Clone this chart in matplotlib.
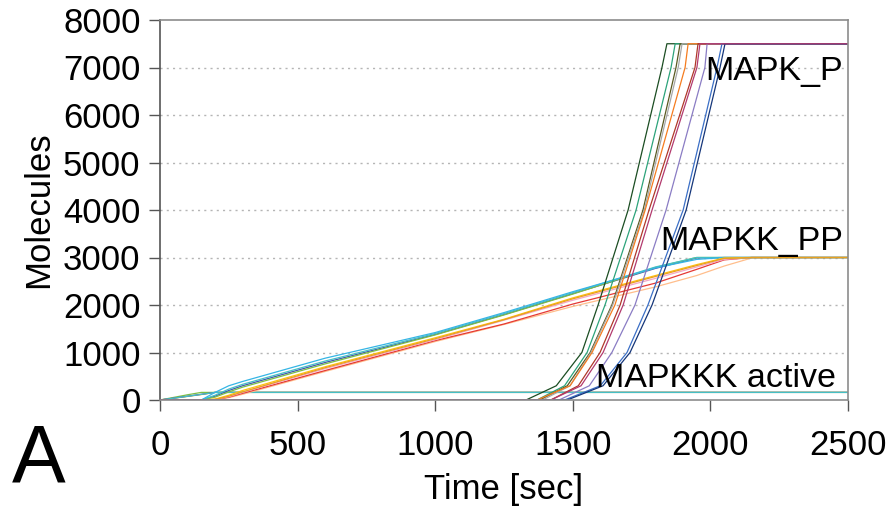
import matplotlib
matplotlib.use("Agg")
import matplotlib.pyplot as plt

plt.rcParams['font.family'] = ['Liberation Sans', 'DejaVu Sans']

# MAPK_P runs: time at which each run crosses the shared levels
mapk_levels = [0, 0, 300, 1000, 2000, 4000, 7000, 7500, 7500]
mapk_times = {
    "#1b4d22": [0, 1330, 1440, 1533, 1592, 1701, 1824, 1842, 2500],
    "#2ca37a": [0, 1370, 1470, 1552, 1617, 1730, 1857, 1872, 2500],
    "#5a5a22": [0, 1380, 1480, 1563, 1642, 1755, 1875, 1890, 2500],
    "#a8a8a8": [0, 1390, 1490, 1566, 1645, 1760, 1883, 1897, 2500],
    "#f57c1f": [0, 1370, 1490, 1570, 1653, 1763, 1908, 1919, 2500],
    "#b0382a": [0, 1420, 1520, 1599, 1672, 1777, 1944, 1955, 2500],
    "#8a7cc4": [0, 1450, 1560, 1642, 1726, 1839, 1980, 1988, 2500],
    "#3b6fc6": [0, 1470, 1600, 1697, 1773, 1901, 2024, 2042, 2500],
    "#15367a": [0, 1480, 1610, 1708, 1788, 1912, 2035, 2053, 2500],
    "#b23a6e": [0, 1420, 1530, 1610, 1683, 1788, 1951, 1962, 2500],
}

# MAPKK_PP runs sampled on a shared time grid
mapkk_t = [0, 150, 200, 250, 300, 600, 1000, 1250, 1500, 1800, 1950, 2050, 2150, 2500]
mapkk_runs = {
    "#ffbe8c": [0, 0, 0, 50, 120, 600, 1230, 1590, 1970, 2380, 2620, 2820, 2990, 3000],
    "#e53935": [0, 0, 10, 60, 140, 620, 1250, 1600, 2020, 2460, 2750, 2950, 3000, 3000],
    "#f4a6c6": [0, 0, 10, 70, 160, 660, 1270, 1680, 2100, 2560, 2800, 2960, 3000, 3000],
    "#4455b0": [0, 0, 80, 200, 300, 790, 1380, 1800, 2240, 2770, 2990, 3000, 3000, 3000],
    "#7cbf45": [0, 0, 60, 170, 270, 760, 1370, 1790, 2230, 2790, 3000, 3000, 3000, 3000],
    "#45bfc5": [0, 0, 100, 230, 330, 820, 1400, 1820, 2260, 2800, 3000, 3000, 3000, 3000],
    "#35b5e5": [0, 0, 160, 300, 390, 880, 1420, 1840, 2280, 2780, 2960, 3000, 3000, 3000],
    "#ffc20e": [0, 0, 20, 100, 200, 700, 1310, 1700, 2150, 2620, 2850, 2990, 3000, 3000],
    "#e8a020": [0, 0, 10, 80, 170, 680, 1290, 1690, 2130, 2600, 2830, 2980, 3000, 3000],
}

# MAPKKK active runs
mapkkk_t = [0, 100, 150, 200, 2500]
mapkkk_runs = {
    "#7cbf45": [0, 110, 160, 160, 160],
    "#f5a623": [0, 75, 115, 160, 160],
    "#4455b0": [0, 80, 120, 160, 160],
    "#45bfc5": [0, 78, 118, 160, 160],
}

labels = [("MAPK_P", 1980, 6740), ("MAPKK_PP", 1818, 3150), ("MAPKKK active", 1585, 270)]

fig = plt.figure(figsize=(8.91, 5.27), dpi=100)
ax = fig.add_axes([160 / 891, 1 - 400 / 527, 688 / 891, 380 / 527])

for y in range(1000, 8000, 1000):
    ax.axhline(y, color="#b5b5b5", lw=1.0, linestyle=(0, (1.5, 3)), zorder=0)

for c, v in mapkkk_runs.items():
    ax.plot(mapkkk_t, v, color=c, lw=0.9)
for c, v in mapkk_runs.items():
    ax.plot(mapkk_t, v, color=c, lw=0.9)
for c, t in mapk_times.items():
    ax.plot(t, mapk_levels, color=c, lw=0.9)

for txt, x, y in labels:
    ax.text(x, y, txt, fontsize=24.5, ha="left", va="baseline", color="black")

ax.set_xlim(0, 2500)
ax.set_ylim(0, 8000)
ax.set_xticks(range(0, 2501, 500))
ax.set_yticks(range(0, 8001, 1000))
ax.tick_params(axis="both", direction="out", length=8, width=1, color="#555555",
               labelsize=25, pad=6)
ax.tick_params(axis="x", pad=13)
for s in ax.spines.values():
    s.set_color("#8c8c8c")
    s.set_linewidth(1.2)
ax.spines["left"].set_color("#555555")

ax.set_xlabel("Time [sec]", fontsize=25, labelpad=8)
ax.set_ylabel("Molecules", fontsize=25, labelpad=6)

fig.text(12 / 891, 1 - 482 / 527, "A", fontsize=58, ha="left", va="baseline")

fig.savefig("out.png", dpi=100)
